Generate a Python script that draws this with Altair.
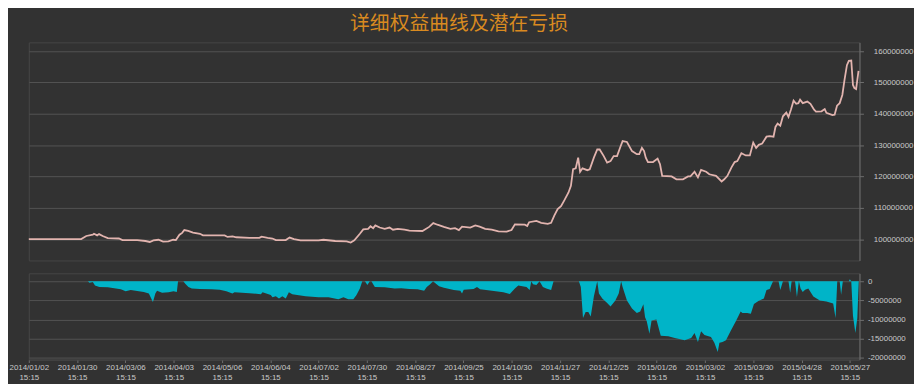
import json
import altair as alt
import pandas as pd

title_text = "详细权益曲线及潜在亏损"
tick_labels = ["2014/01/02", "2014/01/30", "2014/03/06", "2014/04/03", "2014/05/06",
               "2014/06/04", "2014/07/02", "2014/07/30", "2014/08/27", "2014/09/25",
               "2014/10/30", "2014/11/27", "2014/12/25", "2015/01/26", "2015/03/02",
               "2015/03/30", "2015/04/28", "2015/05/27"]
tick_time = "15:15"
tick_step = 20
last_index = 344

# equity curve: trading-day index and value (millions)
equity_idx = [0, 21.7, 23.8, 26.5, 27.0, 28.3, 29.1, 30.6, 32.7, 37.3, 38.8, 44.9, 48.3, 50.1,
              51.6, 53.7, 55.6, 57.8, 59.8, 60.9, 62.4, 63.5, 64.4, 66.0, 68.0, 70.9, 72.1,
              81.1, 82.3, 84.4, 85.9, 91.4, 95.5, 96.4, 98.9, 100.9, 102.3, 106.4, 108.0,
              109.8, 112.5, 120.0, 122.0, 126.9, 131.6, 133.3, 134.8, 137.1, 138.5, 140.5,
              141.5, 142.6, 143.5, 145.3, 147.4, 149.4, 150.8, 152.8, 155.6, 157.6, 163.0,
              165.8, 167.5, 169.2, 171.9, 174.6, 176.5, 178.1, 179.4, 182.8, 184.9, 186.7,
              189.0, 191.7, 194.5, 197.9, 199.9, 201.3, 205.4, 206.4, 207.2, 210.2, 212.2,
              214.9, 216.3, 217.6, 219.0, 220.4, 221.7, 223.5, 224.5, 225.4, 226.5, 227.5,
              228.3, 229.3, 231.3, 232.3, 234.0, 235.4, 236.4, 238.1, 239.5, 240.9, 242.2,
              243.6, 245.0, 245.9, 247.7, 249.8, 251.8, 252.8, 253.9, 254.8, 255.5, 256.4,
              258.5, 260.4, 261.4, 262.3, 266.2, 268.2, 270.9, 273.0, 274.0, 275.7, 277.1,
              278.4, 280.5, 281.8, 284.6, 286.9, 288.0, 289.3, 291.0, 292.3, 293.4, 295.1,
              296.9, 298.6, 300.0, 301.2, 302.3, 303.7, 305.5, 306.8, 308.4, 309.2, 310.1,
              311.2, 312.3, 313.7, 314.6, 315.6, 316.7, 317.8, 318.7, 319.4, 320.5, 322.4,
              323.7, 325.2, 326.0, 328.3, 329.6, 330.3, 332.8, 333.7, 334.7, 335.8, 336.9,
              337.8, 338.8, 339.6, 340.6, 341.3, 341.9, 342.6, 343.6]
equity_m = [100.0, 100.0, 101.0, 101.4, 101.7, 101.2, 101.6, 101.0, 100.3, 100.2, 99.7, 99.7,
            99.4, 99.1, 99.6, 99.8, 99.2, 99.3, 99.8, 99.7, 101.4, 102.0, 102.9, 102.6, 102.1,
            101.7, 101.2, 101.2, 100.7, 100.9, 100.6, 100.4, 100.4, 100.8, 100.4, 100.2, 99.7,
            99.7, 100.5, 100.0, 99.6, 99.6, 99.8, 99.4, 99.3, 98.9, 99.6, 101.7, 103.1, 103.3,
            104.1, 103.5, 104.4, 103.7, 103.3, 103.7, 103.0, 103.3, 103.0, 102.7, 102.6, 103.9,
            105.1, 104.6, 103.9, 103.3, 103.5, 102.9, 104.0, 103.7, 104.4, 104.0, 103.3, 103.0,
            102.5, 102.4, 102.9, 104.7, 104.6, 104.2, 105.4, 105.8, 105.2, 104.9, 105.2, 107.5,
            109.6, 110.5, 112.3, 114.9, 117.0, 122.3, 122.6, 126.0, 121.5, 122.6, 122.0, 122.3,
            126.0, 128.6, 128.6, 126.5, 124.4, 124.9, 126.5, 126.5, 129.5, 131.3, 131.0, 128.1,
            127.1, 127.1, 129.1, 128.1, 126.0, 124.6, 124.6, 125.7, 123.9, 120.2, 120.0, 119.1,
            119.1, 120.0, 120.0, 121.5, 119.7, 122.1, 121.5, 120.7, 120.2, 118.4, 119.1, 120.2,
            122.9, 124.6, 124.9, 127.4, 126.7, 126.7, 130.8, 129.1, 130.1, 130.5, 132.7, 132.9,
            132.7, 135.8, 136.9, 136.2, 139.2, 140.4, 139.0, 141.3, 144.2, 143.2, 143.4, 144.5,
            143.4, 143.9, 143.2, 141.3, 140.7, 140.8, 141.5, 140.3, 139.6, 139.7, 142.6, 143.4,
            146.0, 150.8, 155.5, 156.9, 157.0, 149.2, 148.2, 147.9, 153.7]

# potential loss: trading-day index and value (millions)
loss_idx = [0, 24.5, 25.1, 26.5, 27.4, 29.2, 32.7, 38.1, 40.1, 42.2, 47.6, 49.7, 51.4, 52.4,
            53.1, 55.2, 57.9, 59.9, 61.3, 61.8, 64.0, 64.7, 66.1, 67.5, 70.9, 75.7, 79.1, 81.8,
            84.3, 85.2, 91.4, 96.1, 96.8, 100.2, 100.9, 102.3, 103.6, 105.0, 106.4, 107.7,
            109.1, 114.6, 120.0, 124.1, 128.2, 130.3, 132.3, 134.4, 135.7, 137.1, 138.1, 139.2,
            140.2, 141.2, 141.9, 142.6, 143.3, 147.4, 151.5, 154.2, 157.6, 161.0, 163.7, 164.8,
            166.2, 167.4, 168.5, 169.9, 171.9, 176.0, 178.7, 179.4, 180.1, 184.2, 185.6, 186.9,
            191.0, 196.5, 199.2, 201.3, 202.7, 206.1, 207.4, 208.1, 208.8, 210.2, 211.5, 212.9,
            214.3, 216.3, 217.3, 227.8, 228.6, 229.5, 230.6, 231.7, 232.7, 234.0, 235.4, 236.1,
            237.5, 239.5, 240.9, 242.9, 244.3, 245.3, 245.9, 247.7, 249.8, 251.8, 253.2, 254.5,
            255.2, 255.9, 257.0, 257.9, 259.9, 261.7, 264.8, 267.5, 271.6, 274.3, 275.7, 277.1,
            278.4, 279.8, 282.5, 283.9, 285.3, 286.0, 287.3, 288.7, 290.7, 292.8, 294.8, 295.5,
            297.5, 299.0, 300.3, 302.3, 304.4, 305.5, 306.8, 308.2, 310.5, 311.2, 312.3, 314.6,
            315.3, 315.9, 317.3, 318.1, 318.9, 319.6, 320.5, 321.5, 322.8, 324.9, 327.6, 330.3,
            333.1, 334.1, 334.8, 335.8, 336.4, 337.1, 339.6, 340.0, 340.6, 341.3, 342.3, 343.1,
            343.7]
loss_m = [0, 0, -0.4, -0.2, -1.1, -1.5, -1.6, -2.1, -2.6, -2.3, -2.8, -3.2, -5.4, -3.2, -2.5,
          -3.0, -2.9, -2.6, -2.8, 0, 0, -0.6, -1.5, -1.9, -2.0, -2.1, -2.2, -2.6, -3.2, -2.9,
          -3.1, -3.4, -2.9, -3.6, -4.2, -3.9, -4.5, -3.9, -4.5, -2.9, -3.4, -3.9, -4.2, -4.2,
          -4.7, -4.2, -4.7, -4.7, -3.6, -1.9, 0, 0, -1.0, 0, 0, -0.8, -1.5, -1.6, -1.9, -1.8,
          -2.0, -2.1, -2.5, -1.5, -0.8, 0, -0.6, -1.3, -1.7, -2.3, -2.5, -3.2, -2.2, -2.0, -1.5,
          -2.1, -2.4, -2.9, -3.3, -1.9, -1.1, -1.5, -2.3, 0, -0.8, -1.0, 0, -1.5, -1.9, -2.3, 0,
          0, -1.5, -9.6, -8.0, -8.0, -9.2, -4.0, 0, -3.2, -4.5, -5.7, -6.6, -5.0, -3.2, 0, -1.5,
          -5.0, -7.1, -8.3, -7.9, -6.0, -9.4, -10.4, -13.7, -10.2, -10.0, -14.2, -14.3, -14.8,
          -15.4, -14.8, -13.5, -15.8, -13.0, -14.0, -14.5, -16.0, -18.4, -16.0, -15.8, -15.4,
          -12.9, -10.4, -7.9, -8.3, -8.3, -8.5, -5.9, -5.1, -4.5, -2.3, -2.0, 0, 0, -2.3, 0, 0,
          -3.0, 0, 0, -4.1, 0, -1.9, -2.8, -2.2, -1.9, -4.0, -5.0, -5.3, -5.8, -9.6, 0, 0, -3.5,
          0, 0, 0.5, 0, -9.0, -13.5, -9.6, 0]

eq = pd.DataFrame({"i": equity_idx, "v": [m * 1e6 for m in equity_m]})
ls = pd.DataFrame({"i": loss_idx, "v": [m * 1e6 for m in loss_m]})

BG = "#323232"
GRID = "#535353"
AXIS = "#6e6e6e"
LABEL = "#c9c9c9"
FONT = "Liberation Sans"

label_expr = ("[" + json.dumps(tick_labels) + "[round(datum.value / " + str(tick_step)
              + ")], '" + tick_time + "']")
xscale = alt.Scale(domain=[0, last_index], nice=False, zero=False)

top = alt.Chart(eq).mark_line(color="#e2b4af", strokeWidth=1.8).encode(
    x=alt.X("i:Q", scale=xscale, axis=None),
    y=alt.Y("v:Q", scale=alt.Scale(domain=[93.2e6, 162.8e6], nice=False, zero=False),
            axis=alt.Axis(orient="right", title=None,
                          values=[100e6, 110e6, 120e6, 130e6, 140e6, 150e6, 160e6],
                          labelExpr="datum.value + ''", labelFont=FONT, labelFontSize=8,
                          labelColor=LABEL, labelPadding=10, tickSize=4, tickColor=AXIS,
                          domainColor=AXIS, gridColor=GRID, grid=True)),
).properties(width=838, height=220)

bottom = alt.Chart(ls).mark_area(color="#00b4c8", opacity=1).encode(
    x=alt.X("i:Q", scale=xscale,
            axis=alt.Axis(title=None, values=list(range(0, 341, tick_step)),
                          labelExpr=label_expr, labelFont=FONT, labelFontSize=8,
                          labelColor=LABEL, labelLineHeight=10, labelPadding=1,
                          labelOverlap=False, labelFlush=False, tickSize=3,
                          tickColor=AXIS, domainColor="#454545", grid=False)),
    y=alt.Y("v:Q", scale=alt.Scale(domain=[-20.4e6, 2.06e6], nice=False, zero=False),
            axis=alt.Axis(orient="right", title=None,
                          values=[0, -5e6, -10e6, -15e6, -20e6],
                          labelExpr="datum.value + ''", labelFont=FONT, labelFontSize=8,
                          labelColor=LABEL, labelPadding=4, tickSize=4, tickColor=AXIS,
                          domainColor=AXIS, gridColor=GRID, grid=True)),
    y2=alt.Y2(datum=0),
).properties(width=838, height=87)

chart = alt.vconcat(top, bottom, spacing=11).properties(
    title=alt.TitleParams(title_text, font="Noto Sans CJK SC", fontSize=20,
                          fontWeight="normal", color="#d98a20", anchor="middle",
                          frame="group", offset=8, dx=15),
    background=BG,
    padding={"left": 0, "top": 4, "right": 0, "bottom": 0},
).configure_view(stroke="#464646", strokeWidth=1)

chart.save("out.html", embed_options={"renderer": "svg", "actions": False})
